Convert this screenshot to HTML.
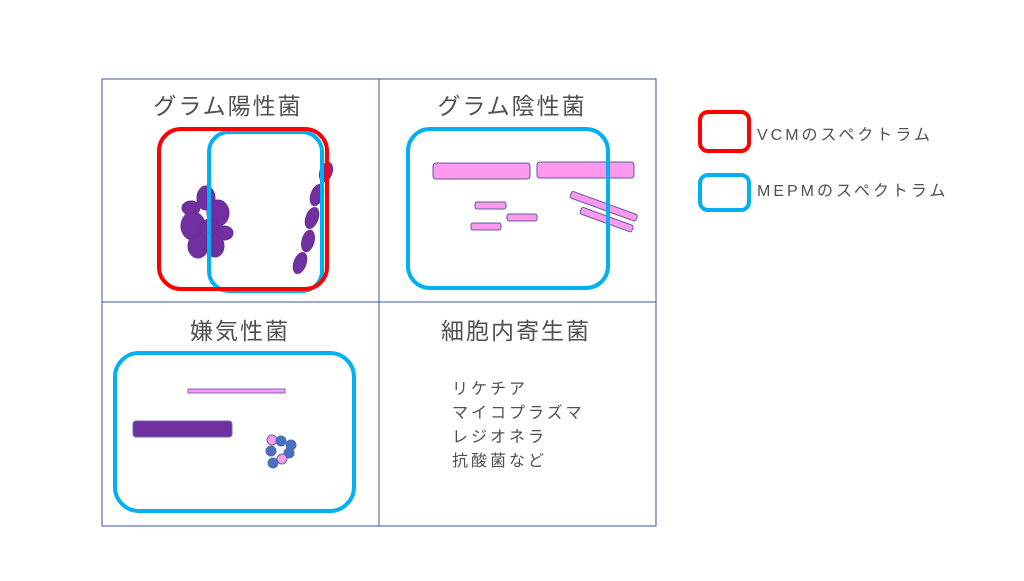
<!DOCTYPE html>
<html><head><meta charset="utf-8"><style>
body{margin:0;background:#fff}
svg text{font-family:"Liberation Sans","Noto Sans CJK JP",sans-serif;fill:#505050}
</style></head><body>
<svg width="1024" height="576" viewBox="0 0 1024 576" xmlns="http://www.w3.org/2000/svg">
<rect x="102" y="79" width="554" height="447" fill="none" stroke="#3a5598" stroke-width="1"/>
<line x1="379" y1="79" x2="379" y2="526" stroke="#3a5598" stroke-width="1"/>
<line x1="102" y1="302" x2="656" y2="302" stroke="#3a5598" stroke-width="1"/>

<text x="228" y="114" font-size="23" letter-spacing="2" text-anchor="middle">グラム陽性菌</text>
<text x="512" y="114" font-size="23" letter-spacing="2" text-anchor="middle">グラム陰性菌</text>
<text x="240" y="339" font-size="23" letter-spacing="2" text-anchor="middle">嫌気性菌</text>
<text x="516" y="339" font-size="23" letter-spacing="2" text-anchor="middle">細胞内寄生菌</text>
<text font-size="16" letter-spacing="3" x="452" y="394">リケチア</text>
<text font-size="16" letter-spacing="3" x="452" y="418">マイコプラズマ</text>
<text font-size="16" letter-spacing="3" x="452" y="442">レジオネラ</text>
<text font-size="16" letter-spacing="3" x="452" y="466">抗酸菌など</text>

<!-- gram positive -->
<g fill="#7030a0" stroke="#6a2c9a" stroke-width="1">
<ellipse cx="191" cy="208" rx="9" ry="7"/>
<ellipse cx="206" cy="198" rx="9" ry="12"/>
<ellipse cx="218" cy="213" rx="11" ry="13"/>
<ellipse cx="193" cy="226" rx="12" ry="14"/>
<ellipse cx="210" cy="230" rx="10" ry="11"/>
<ellipse cx="224" cy="233" rx="9" ry="7"/>
<ellipse cx="198" cy="246" rx="10" ry="12"/>
<ellipse cx="215" cy="246" rx="9" ry="11"/>
<ellipse cx="326" cy="172" rx="6" ry="10" transform="rotate(20 326 172)"/>
<ellipse cx="317" cy="195" rx="6" ry="11" transform="rotate(20 317 195)"/>
<ellipse cx="312" cy="218" rx="6" ry="11" transform="rotate(20 312 218)"/>
<ellipse cx="308" cy="241" rx="6" ry="11" transform="rotate(15 308 241)"/>
<ellipse cx="300" cy="263" rx="6" ry="11" transform="rotate(20 300 263)"/>
</g>
<rect x="209" y="132" width="113" height="159" rx="20" fill="none" stroke="#00b0f0" stroke-width="4"/>
<rect x="159" y="129" width="168" height="160" rx="22" fill="none" stroke="#ff0000" stroke-width="4"/>

<!-- gram negative -->
<g fill="#ff99ee" stroke="#5a5aa0" stroke-width="1">
<rect x="433" y="163" width="97" height="16" rx="3"/>
<rect x="537" y="162" width="97" height="16" rx="3"/>
<rect x="475" y="202" width="31" height="7" rx="2"/>
<rect x="507" y="214" width="30" height="7" rx="2"/>
<rect x="471" y="223" width="30" height="7" rx="2"/>
<rect x="572" y="191" width="70" height="7" rx="2" transform="rotate(20 572 191)"/>
<rect x="582" y="207" width="55" height="7" rx="2" transform="rotate(20 582 207)"/>
</g>
<rect x="408" y="129" width="200" height="159" rx="22" fill="none" stroke="#00b0f0" stroke-width="4"/>

<!-- anaerobe -->
<rect x="188" y="389" width="97" height="4" fill="#ff99ee" stroke="#7a6ab0" stroke-width="1"/>
<rect x="133" y="421" width="99" height="16" rx="3" fill="#7030a0" stroke="#6a6ab0" stroke-width="1"/>
<g stroke="#5a6aa8" stroke-width="1">
<circle cx="272" cy="440" r="5" fill="#ff99ee"/>
<circle cx="281" cy="441" r="5" fill="#4472c4"/>
<circle cx="291" cy="445" r="5" fill="#4472c4"/>
<circle cx="271" cy="451" r="5" fill="#4472c4"/>
<circle cx="289" cy="453" r="5" fill="#4472c4"/>
<circle cx="282" cy="459" r="5" fill="#ff99ee"/>
<circle cx="273" cy="463" r="5" fill="#4472c4"/>
</g>
<rect x="115" y="353" width="239" height="158" rx="24" fill="none" stroke="#00b0f0" stroke-width="4"/>

<!-- legend -->
<rect x="700" y="112" width="49" height="39" rx="8" fill="none" stroke="#ff0000" stroke-width="4"/>
<rect x="700" y="175" width="49" height="35" rx="8" fill="none" stroke="#00b0f0" stroke-width="4"/>
<text x="757" y="140" font-size="16" letter-spacing="3">VCMのスペクトラム</text>
<text x="757" y="196" font-size="16" letter-spacing="3">MEPMのスペクトラム</text>
</svg>
</body></html>
